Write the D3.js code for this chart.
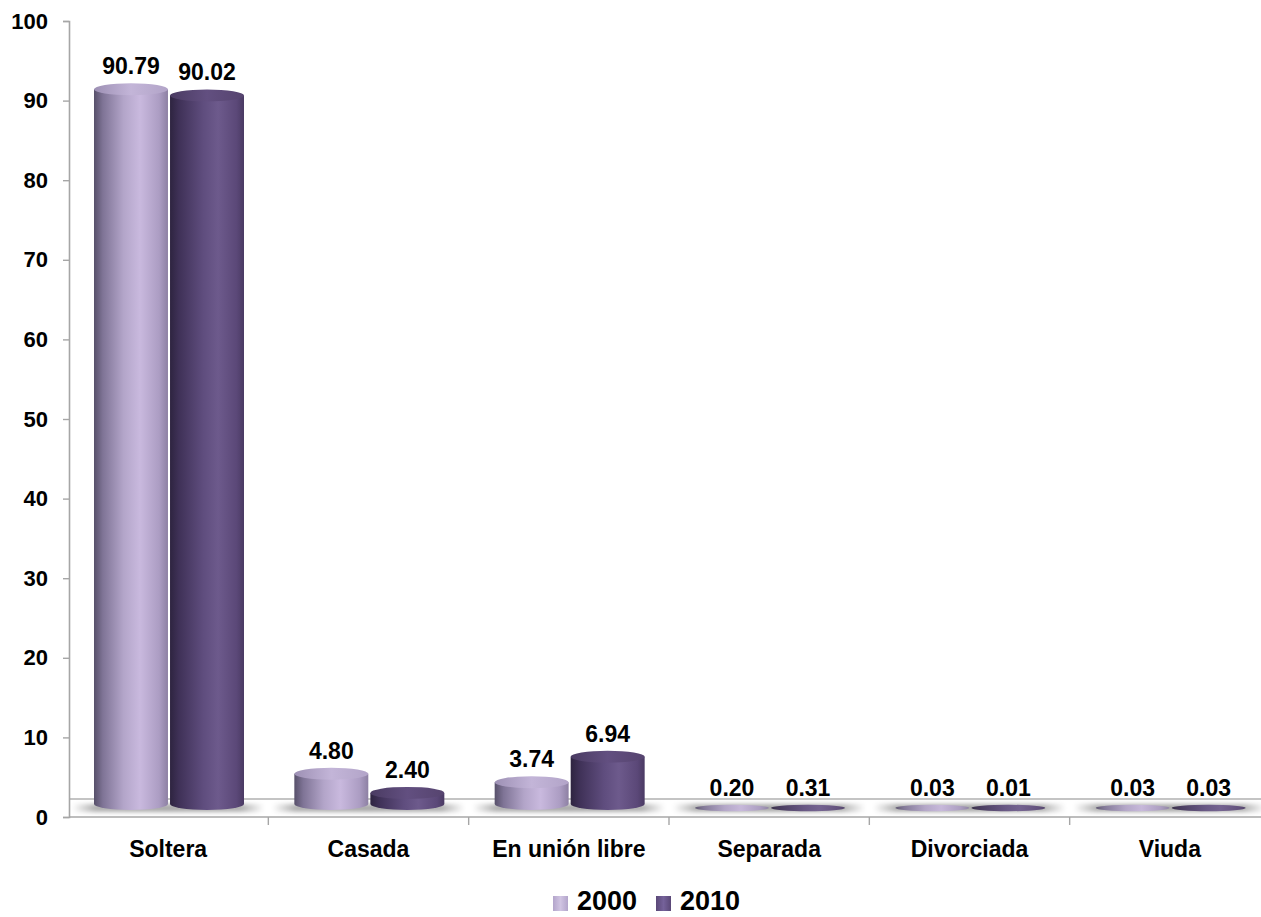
<!DOCTYPE html>
<html>
<head>
<meta charset="utf-8">
<script src="https://cdn.jsdelivr.net/npm/d3@7"></script>
<style>
  html, body { margin: 0; padding: 0; background: #ffffff; }
  svg { display: block; font-family: Arial, "Liberation Sans", sans-serif; }
</style>
</head>
<body>
<script>
const categories = ["Soltera", "Casada", "En unión libre", "Separada", "Divorciada", "Viuda"];
const seriesNames = ["2000", "2010"];
const values2000 = [90.79, 4.80, 3.74, 0.20, 0.03, 0.03];
const values2010 = [90.02, 2.40, 6.94, 0.31, 0.01, 0.03];
const yTicks = [0, 10, 20, 30, 40, 50, 60, 70, 80, 90, 100];

const seriesValues = [values2000, values2010];

const W = 1261, H = 917;
const svg = d3.select("body").append("svg").attr("width", W).attr("height", H);
const defs = svg.append("defs");

function hGrad(id, stops) {
  const g = defs.append("linearGradient").attr("id", id).attr("x1", "0%").attr("x2", "100%").attr("y1", "0%").attr("y2", "0%");
  stops.forEach(s => g.append("stop").attr("offset", s[0]).attr("stop-color", s[1]));
}
hGrad("body0", [["0%", "#57506a"], ["12%", "#7f7496"], ["40%", "#b3a5c9"], ["62%", "#c9b9de"], ["88%", "#ac9dc3"], ["100%", "#8d80a3"]]);
hGrad("body1", [["0%", "#2e2440"], ["12%", "#3f3157"], ["45%", "#5f4d7e"], ["65%", "#6d5a8c"], ["90%", "#5b4878"], ["100%", "#4a3a63"]]);
hGrad("top0", [["0%", "#9d90b4"], ["50%", "#c3b5d8"], ["100%", "#b2a4c8"]]);
hGrad("top1", [["0%", "#4a3b62"], ["50%", "#624f80"], ["100%", "#56446f"]]);
hGrad("shadow", [["0%", "#ffffff"], ["12%", "#b0b0b0"], ["50%", "#a8a8a8"], ["88%", "#b0b0b0"], ["100%", "#ffffff"]]);
hGrad("leg0", [["0%", "#b3a5cb"], ["50%", "#d0c4e2"], ["100%", "#b3a5cb"]]);
hGrad("leg1", [["0%", "#5a4877"], ["50%", "#75629a"], ["100%", "#5a4877"]]);
const blur = defs.append("filter").attr("id", "blur").attr("x", "-5%").attr("y", "-100%").attr("width", "110%").attr("height", "300%");
blur.append("feGaussianBlur").attr("stdDeviation", "2");

const x = d3.scaleBand().domain(categories).range([68, 1270]).paddingInner(0).paddingOuter(0);
const xs = d3.scaleBand().domain(seriesNames).range([26, 176]).paddingInner(0.027).paddingOuter(0);
const y = d3.scaleLinear().domain([0, 100]).range([817, 21]);

const floorBack = y(0) - 18, floorFront = y(0);

// floor
const floor = svg.append("g");
floor.append("rect").attr("x", 69).attr("y", floorBack).attr("width", W - 69).attr("height", floorFront - floorBack)
  .attr("fill", "#ffffff");
floor.selectAll("rect.sh").data(categories).enter().append("rect").attr("class", "sh")
  .attr("x", d => x(d) + 4).attr("y", floorBack + 5).attr("width", x.bandwidth() - 8).attr("height", 8)
  .attr("fill", "url(#shadow)").attr("filter", "url(#blur)");
floor.append("line").attr("x1", 69).attr("x2", W).attr("y1", floorBack).attr("y2", floorBack)
  .attr("stroke", "#c4c4c4").attr("stroke-width", 2);
floor.append("line").attr("x1", 69).attr("x2", W).attr("y1", floorFront).attr("y2", floorFront)
  .attr("stroke", "#bdbdbd").attr("stroke-width", 2);

// y axis
const yAxis = svg.append("g").attr("transform", "translate(69,0)")
  .call(d3.axisLeft(y).tickValues(yTicks).tickSize(6).tickPadding(15).tickFormat(d3.format("d")));
yAxis.select(".domain").attr("stroke", "#a6a6a6").attr("stroke-width", 1.6);
yAxis.selectAll(".tick line").attr("stroke", "#a6a6a6").attr("stroke-width", 1.4);
yAxis.selectAll(".tick text").attr("font-size", "22px").attr("font-weight", "bold").attr("fill", "#000")
  .attr("font-family", "Arial, 'Liberation Sans', sans-serif");

// x axis ticks at category boundaries
const xAxis = svg.append("g").attr("transform", `translate(0,${floorFront})`);
xAxis.selectAll("line").data(categories.slice(1)).enter().append("line")
  .attr("x1", d => x(d)).attr("x2", d => x(d)).attr("y1", 0).attr("y2", 8)
  .attr("stroke", "#a6a6a6").attr("stroke-width", 1.4);
xAxis.selectAll("text").data(categories).enter().append("text")
  .attr("x", d => x(d) + x.bandwidth() / 2).attr("y", 40)
  .attr("text-anchor", "middle").attr("font-size", "23px").attr("font-weight", "bold").text(d => d);

// bars (cylinders)
const baseCy = floorBack + 5;
const ry = 6;
const bars = [];
categories.forEach((c, i) => {
  seriesNames.forEach((s, j) => {
    bars.push({ cat: c, series: s, si: j, value: seriesValues[j][i] });
  });
});
const gBars = svg.append("g");
bars.forEach(b => {
  const bx = x(b.cat) + xs(b.series);
  const bw = xs.bandwidth();
  const rx = bw / 2;
  const topCy = y(b.value) - 5;
  let labelTop;
  if (topCy >= baseCy) {
    const cy = floorBack + 9;
    gBars.append("ellipse").attr("cx", bx + rx).attr("cy", cy).attr("rx", rx).attr("ry", 3.2)
      .attr("fill", `url(#body${b.si})`).attr("opacity", 0.9);
    labelTop = cy - 3;
  } else {
    gBars.append("path")
      .attr("d", `M${bx},${topCy} L${bx},${baseCy} A${rx},${ry} 0 0 0 ${bx + bw},${baseCy} L${bx + bw},${topCy} Z`)
      .attr("fill", `url(#body${b.si})`);
    gBars.append("ellipse").attr("cx", bx + rx).attr("cy", topCy).attr("rx", rx).attr("ry", ry)
      .attr("fill", `url(#top${b.si})`);
    labelTop = topCy - ry;
  }
  gBars.append("text").attr("x", bx + rx).attr("y", labelTop - 9)
    .attr("text-anchor", "middle").attr("font-size", "23px").attr("font-weight", "bold")
    .text(d3.format(".2f")(b.value));
});

// legend
const legend = svg.append("g");
const legX = [553, 656];
seriesNames.forEach((s, j) => {
  legend.append("rect").attr("x", legX[j]).attr("y", 896).attr("width", 15).attr("height", 15)
    .attr("fill", `url(#leg${j})`);
  legend.append("text").attr("x", legX[j] + 24).attr("y", 910).attr("font-size", "27px").attr("font-weight", "bold").text(s);
});
</script>
</body>
</html>
